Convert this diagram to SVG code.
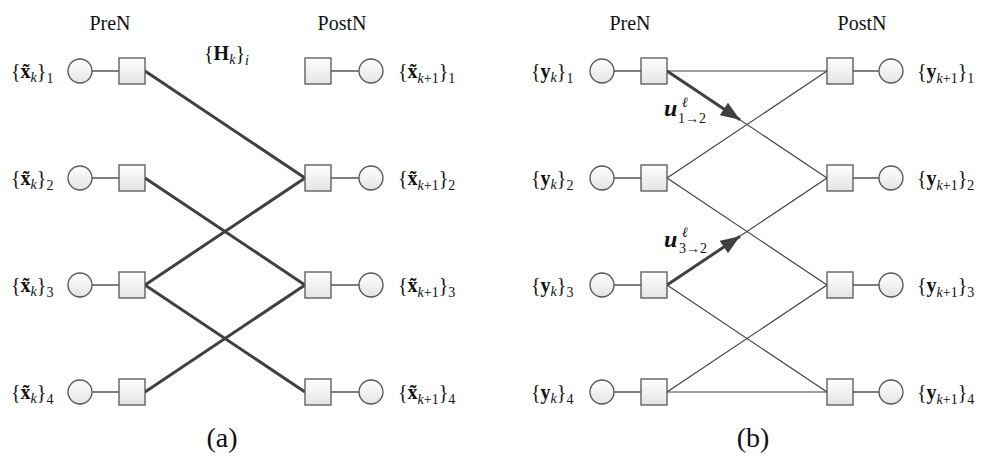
<svg xmlns="http://www.w3.org/2000/svg" width="982" height="460" viewBox="0 0 982 460">
<defs>
<linearGradient id="g" x1="0" y1="0" x2="0" y2="1">
<stop offset="0" stop-color="#ffffff"/>
<stop offset="1" stop-color="#e4e4e4"/>
</linearGradient>
<marker id="ah" viewBox="0 0 10 10" refX="10" refY="5" markerWidth="6.5" markerHeight="5" markerUnits="strokeWidth" orient="auto" preserveAspectRatio="none">
<path d="M0,0 L10,5 L0,10 z" fill="#404040"/>
</marker>
<style>
.c{fill:url(#g);stroke:#555;stroke-width:1.3}
.s{fill:url(#g);stroke:#555;stroke-width:1.3}
.st{stroke:#555;stroke-width:1.5;fill:none}
.thick{stroke:#404040;stroke-width:3;fill:none}
.thin{stroke:#404040;stroke-width:1.2;fill:none}
text{font-family:"Liberation Serif","Times New Roman",serif;fill:#111}
.lab{font-size:20px}
.sub{font-size:14px}
.it{font-style:italic}
.b{font-weight:bold}
.ttl{font-size:20px;text-anchor:middle}
.cap{font-size:28px;text-anchor:middle}
</style>
</defs>

<g id="connectors">
<!-- panel a -->
<line class="thick" x1="145" y1="71" x2="305" y2="178"/>
<line class="thick" x1="145" y1="178" x2="305" y2="285"/>
<line class="thick" x1="145" y1="285" x2="305" y2="178"/>
<line class="thick" x1="145" y1="285" x2="305" y2="392"/>
<line class="thick" x1="145" y1="392" x2="305" y2="285"/>
<!-- panel b -->
<line class="thin" x1="667" y1="71" x2="827" y2="71"/>
<line class="thin" x1="667" y1="71" x2="827" y2="178"/>
<line class="thin" x1="667" y1="178" x2="827" y2="71"/>
<line class="thin" x1="667" y1="178" x2="827" y2="285"/>
<line class="thin" x1="667" y1="285" x2="827" y2="178"/>
<line class="thin" x1="667" y1="285" x2="827" y2="392"/>
<line class="thin" x1="667" y1="392" x2="827" y2="285"/>
<line class="thin" x1="667" y1="392" x2="827" y2="392"/>
<line x1="667" y1="71" x2="740" y2="119.8" stroke="#404040" stroke-width="3" marker-end="url(#ah)"/>
<line x1="667" y1="285" x2="740" y2="236.2" stroke="#404040" stroke-width="3" marker-end="url(#ah)"/>
</g>

<!-- panel a: left nodes -->
<g id="a-pre-1"><line class="st" x1="92" y1="71" x2="119" y2="71"/><circle class="c" cx="80" cy="71" r="12"/><rect class="s" x="119" y="58" width="26" height="26"/></g>
<g id="a-pre-2"><line class="st" x1="92" y1="178" x2="119" y2="178"/><circle class="c" cx="80" cy="178" r="12"/><rect class="s" x="119" y="165" width="26" height="26"/></g>
<g id="a-pre-3"><line class="st" x1="92" y1="285" x2="119" y2="285"/><circle class="c" cx="80" cy="285" r="12"/><rect class="s" x="119" y="272" width="26" height="26"/></g>
<g id="a-pre-4"><line class="st" x1="92" y1="392" x2="119" y2="392"/><circle class="c" cx="80" cy="392" r="12"/><rect class="s" x="119" y="379" width="26" height="26"/></g>
<!-- panel a: right nodes -->
<g id="a-post-1"><line class="st" x1="331" y1="71" x2="359" y2="71"/><rect class="s" x="305" y="58" width="26" height="26"/><circle class="c" cx="371" cy="71" r="12"/></g>
<g id="a-post-2"><line class="st" x1="331" y1="178" x2="359" y2="178"/><rect class="s" x="305" y="165" width="26" height="26"/><circle class="c" cx="371" cy="178" r="12"/></g>
<g id="a-post-3"><line class="st" x1="331" y1="285" x2="359" y2="285"/><rect class="s" x="305" y="272" width="26" height="26"/><circle class="c" cx="371" cy="285" r="12"/></g>
<g id="a-post-4"><line class="st" x1="331" y1="392" x2="359" y2="392"/><rect class="s" x="305" y="379" width="26" height="26"/><circle class="c" cx="371" cy="392" r="12"/></g>

<!-- panel b: left nodes -->
<g id="b-pre-1"><line class="st" x1="614" y1="71" x2="642" y2="71"/><circle class="c" cx="602" cy="71" r="12"/><rect class="s" x="641" y="58" width="26" height="26"/></g>
<g id="b-pre-2"><line class="st" x1="614" y1="178" x2="642" y2="178"/><circle class="c" cx="602" cy="178" r="12"/><rect class="s" x="641" y="165" width="26" height="26"/></g>
<g id="b-pre-3"><line class="st" x1="614" y1="285" x2="642" y2="285"/><circle class="c" cx="602" cy="285" r="12"/><rect class="s" x="641" y="272" width="26" height="26"/></g>
<g id="b-pre-4"><line class="st" x1="614" y1="392" x2="642" y2="392"/><circle class="c" cx="602" cy="392" r="12"/><rect class="s" x="641" y="379" width="26" height="26"/></g>
<!-- panel b: right nodes -->
<g id="b-post-1"><line class="st" x1="853" y1="71" x2="879" y2="71"/><rect class="s" x="827" y="58" width="26" height="26"/><circle class="c" cx="891" cy="71" r="12"/></g>
<g id="b-post-2"><line class="st" x1="853" y1="178" x2="879" y2="178"/><rect class="s" x="827" y="165" width="26" height="26"/><circle class="c" cx="891" cy="178" r="12"/></g>
<g id="b-post-3"><line class="st" x1="853" y1="285" x2="879" y2="285"/><rect class="s" x="827" y="272" width="26" height="26"/><circle class="c" cx="891" cy="285" r="12"/></g>
<g id="b-post-4"><line class="st" x1="853" y1="392" x2="879" y2="392"/><rect class="s" x="827" y="379" width="26" height="26"/><circle class="c" cx="891" cy="392" r="12"/></g>

<!-- titles -->
<text class="ttl" x="110" y="30">PreN</text>
<text class="ttl" x="342" y="30">PostN</text>
<text class="ttl" x="630" y="30">PreN</text>
<text class="ttl" x="862" y="30">PostN</text>

<!-- H label -->
<text class="lab" x="204" y="60" font-size="22">{<tspan class="b">H</tspan><tspan class="sub it" dy="4">k</tspan><tspan dy="-4">}</tspan><tspan class="sub it" dy="5">i</tspan></text>

<!-- panel a labels -->
<text class="lab" x="11" y="78">{<tspan class="b">x̃</tspan><tspan class="sub it" dy="4">k</tspan><tspan dy="-4">}</tspan><tspan class="sub" dy="5">1</tspan></text>
<text class="lab" x="11" y="185">{<tspan class="b">x̃</tspan><tspan class="sub it" dy="4">k</tspan><tspan dy="-4">}</tspan><tspan class="sub" dy="5">2</tspan></text>
<text class="lab" x="11" y="292">{<tspan class="b">x̃</tspan><tspan class="sub it" dy="4">k</tspan><tspan dy="-4">}</tspan><tspan class="sub" dy="5">3</tspan></text>
<text class="lab" x="11" y="399">{<tspan class="b">x̃</tspan><tspan class="sub it" dy="4">k</tspan><tspan dy="-4">}</tspan><tspan class="sub" dy="5">4</tspan></text>

<text class="lab" x="398" y="78">{<tspan class="b">x̃</tspan><tspan class="sub" dy="5"><tspan class="it">k</tspan>+1</tspan><tspan dy="-5">}</tspan><tspan class="sub" dy="5">1</tspan></text>
<text class="lab" x="398" y="185">{<tspan class="b">x̃</tspan><tspan class="sub" dy="5"><tspan class="it">k</tspan>+1</tspan><tspan dy="-5">}</tspan><tspan class="sub" dy="5">2</tspan></text>
<text class="lab" x="398" y="292">{<tspan class="b">x̃</tspan><tspan class="sub" dy="5"><tspan class="it">k</tspan>+1</tspan><tspan dy="-5">}</tspan><tspan class="sub" dy="5">3</tspan></text>
<text class="lab" x="398" y="399">{<tspan class="b">x̃</tspan><tspan class="sub" dy="5"><tspan class="it">k</tspan>+1</tspan><tspan dy="-5">}</tspan><tspan class="sub" dy="5">4</tspan></text>

<!-- panel b labels -->
<text class="lab" x="531" y="78">{<tspan class="b">y</tspan><tspan class="sub it" dy="4">k</tspan><tspan dy="-4">}</tspan><tspan class="sub" dy="5">1</tspan></text>
<text class="lab" x="531" y="185">{<tspan class="b">y</tspan><tspan class="sub it" dy="4">k</tspan><tspan dy="-4">}</tspan><tspan class="sub" dy="5">2</tspan></text>
<text class="lab" x="531" y="292">{<tspan class="b">y</tspan><tspan class="sub it" dy="4">k</tspan><tspan dy="-4">}</tspan><tspan class="sub" dy="5">3</tspan></text>
<text class="lab" x="531" y="399">{<tspan class="b">y</tspan><tspan class="sub it" dy="4">k</tspan><tspan dy="-4">}</tspan><tspan class="sub" dy="5">4</tspan></text>

<text class="lab" x="917" y="78">{<tspan class="b">y</tspan><tspan class="sub" dy="5"><tspan class="it">k</tspan>+1</tspan><tspan dy="-5">}</tspan><tspan class="sub" dy="5">1</tspan></text>
<text class="lab" x="917" y="185">{<tspan class="b">y</tspan><tspan class="sub" dy="5"><tspan class="it">k</tspan>+1</tspan><tspan dy="-5">}</tspan><tspan class="sub" dy="5">2</tspan></text>
<text class="lab" x="917" y="292">{<tspan class="b">y</tspan><tspan class="sub" dy="5"><tspan class="it">k</tspan>+1</tspan><tspan dy="-5">}</tspan><tspan class="sub" dy="5">3</tspan></text>
<text class="lab" x="917" y="399">{<tspan class="b">y</tspan><tspan class="sub" dy="5"><tspan class="it">k</tspan>+1</tspan><tspan dy="-5">}</tspan><tspan class="sub" dy="5">4</tspan></text>

<!-- message labels -->
<text class="it b" x="664" y="116" font-size="24">u</text>
<text class="sub it" x="682" y="107">ℓ</text>
<text class="sub" x="678" y="123">1→2</text>
<text class="it b" x="664" y="247" font-size="24">u</text>
<text class="sub it" x="682" y="237">ℓ</text>
<text class="sub" x="679" y="253">3→2</text>

<!-- captions -->
<text class="cap" x="222" y="447">(a)</text>
<text class="cap" x="753" y="447">(b)</text>
</svg>
